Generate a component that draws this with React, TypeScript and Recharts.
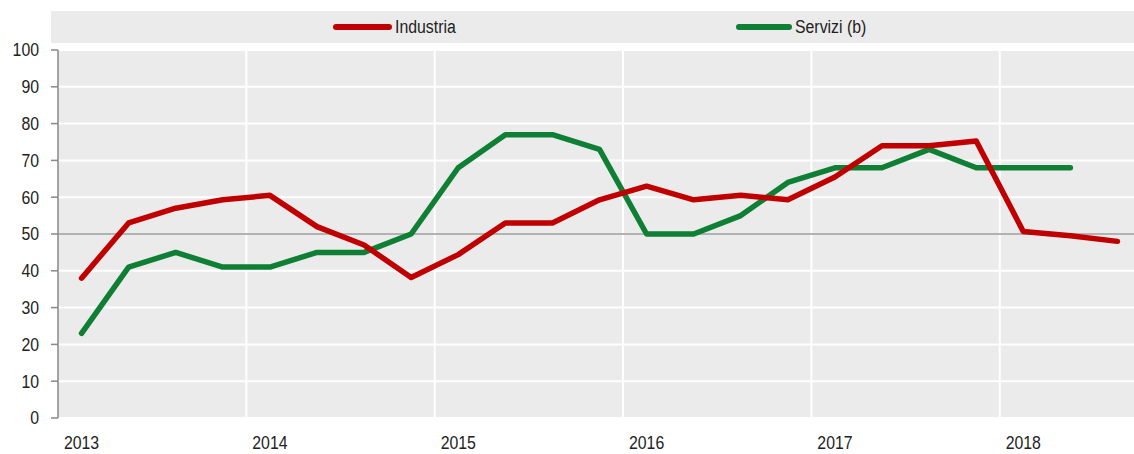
import React from "react";
import {
  CartesianGrid,
  Legend,
  Line,
  LineChart,
  ReferenceLine,
  XAxis,
  YAxis,
} from "recharts";

// quarters 2013 Q1 .. 2018 Q3
const quarters = [
  "2013T1", "2013T2", "2013T3", "2013T4",
  "2014T1", "2014T2", "2014T3", "2014T4",
  "2015T1", "2015T2", "2015T3", "2015T4",
  "2016T1", "2016T2", "2016T3", "2016T4",
  "2017T1", "2017T2", "2017T3", "2017T4",
  "2018T1", "2018T2", "2018T3",
];

const industria = [
  38, 53, 57, 59.3, 60.5, 52, 47, 38.2, 44.4, 53, 53, 59.3,
  63, 59.3, 60.5, 59.3, 65.5, 74, 74, 75.3, 50.7, 49.5, 48,
];

const servizi = [
  23, 41, 45, 41, 41, 45, 45, 50, 68, 77, 77, 73,
  50, 50, 55, 64, 68, 68, 73, 68, 68, 68, null,
];

const yearTicks = [0, 4, 8, 12, 16, 20];
const yearLabels = ["2013", "2014", "2015", "2016", "2017", "2018"];
const yearBreaks = [3.5, 7.5, 11.5, 15.5, 19.5];
const yTicks = [0, 10, 20, 30, 40, 50, 60, 70, 80, 90, 100];

const data = quarters.map((q, i) => ({
  idx: i,
  quarter: q,
  industria: industria[i],
  servizi: servizi[i],
}));

const FONT = '"Liberation Sans", Arial, sans-serif';
const NARROW = 0.88;
const RED = "#C00000";
const GREEN = "#0E7F34";
const BG = "#EBEBEB";

// condensed-looking tick text (the original uses a narrow face)
function NarrowTick(props: any) {
  const { x, y, payload, textAnchor, verticalAnchor, tickFormatter } = props;
  const label = tickFormatter ? tickFormatter(payload.value, payload.index) : payload.value;
  const dy = verticalAnchor === "start" ? "0.71em" : "0.355em";
  return (
    <text
      transform={`translate(${x},${y}) scale(${NARROW},1)`}
      textAnchor={textAnchor}
      dy={dy}
      fontFamily={FONT}
      fontSize={18}
      fill="#222"
    >
      {label}
    </text>
  );
}

function renderLegend() {
  const item = (left: number, width: number, color: string, label: string) => (
    <div
      key={label}
      style={{
        position: "absolute",
        left,
        top: 0,
        height: 32,
        display: "flex",
        alignItems: "center",
      }}
    >
      <div
        style={{
          width,
          height: 6,
          borderRadius: 3,
          background: color,
          marginRight: 3,
        }}
      />
      <span
        style={{
          fontFamily: FONT,
          fontSize: 18,
          color: "#222",
          display: "inline-block",
          transform: `scaleX(${NARROW})`,
          transformOrigin: "left center",
          whiteSpace: "nowrap",
        }}
      >
        {label}
      </span>
    </div>
  );
  return (
    <div style={{ position: "relative", width: "100%", height: 32, background: BG }}>
      {item(282, 59, RED, "Industria")}
      {item(685, 56, GREEN, "Servizi (b)")}
    </div>
  );
}

export default function App() {
  return (
    <div
      style={{
        position: "absolute",
        left: 0,
        top: 0,
        width: 1134,
        height: 454,
        overflow: "hidden",
        background: "#fff",
      }}
    >
      <div
        style={{
          position: "absolute",
          left: 133,
          top: -19,
          fontFamily: FONT,
          fontWeight: "bold",
          fontSize: 18,
          lineHeight: "18px",
          color: "#1F3A7A",
          whiteSpace: "nowrap",
          transform: `scaleX(${NARROW})`,
          transformOrigin: "left center",
        }}
      >
        (valori percentuali)
      </div>
      <LineChart
        width={1141}
        height={454}
        data={data}
        margin={{ top: 18, right: 0, bottom: 6, left: 0 }}
      >
        <CartesianGrid
          vertical={false}
          stroke="#FFFFFF"
          strokeWidth={2}
          fill={BG}
          fillOpacity={1}
        />
        <XAxis
          dataKey="idx"
          type="number"
          domain={[-0.5, 22.5]}
          ticks={yearTicks}
          tickFormatter={(v: number) => yearLabels[yearTicks.indexOf(v)]}
          axisLine={false}
          tickLine={false}
          tickSize={0}
          tickMargin={18}
          tick={<NarrowTick />}
          interval={0}
          allowDataOverflow
        />
        <YAxis
          domain={[0, 100]}
          ticks={yTicks}
          width={58}
          interval={0}
          axisLine={{ stroke: "#888", strokeWidth: 1.5 }}
          tickLine={{ stroke: "#888", strokeWidth: 1.5 }}
          tickSize={7}
          tickMargin={12}
          tick={<NarrowTick />}
        />
        {yearBreaks.map((x) => (
          <ReferenceLine key={x} x={x} stroke="#FFFFFF" strokeWidth={2} />
        ))}
        <ReferenceLine y={50} stroke="#999" strokeWidth={1.5} />
        <Legend
          verticalAlign="top"
          content={renderLegend}
          wrapperStyle={{ top: 11, left: 51, width: 1083, height: 32 }}
        />
        <Line
          dataKey="servizi"
          stroke={GREEN}
          strokeWidth={5.5}
          strokeLinecap="round"
          strokeLinejoin="round"
          dot={false}
          activeDot={false}
          isAnimationActive={false}
        />
        <Line
          dataKey="industria"
          stroke={RED}
          strokeWidth={5.5}
          strokeLinecap="round"
          strokeLinejoin="round"
          dot={false}
          activeDot={false}
          isAnimationActive={false}
        />
      </LineChart>
    </div>
  );
}
